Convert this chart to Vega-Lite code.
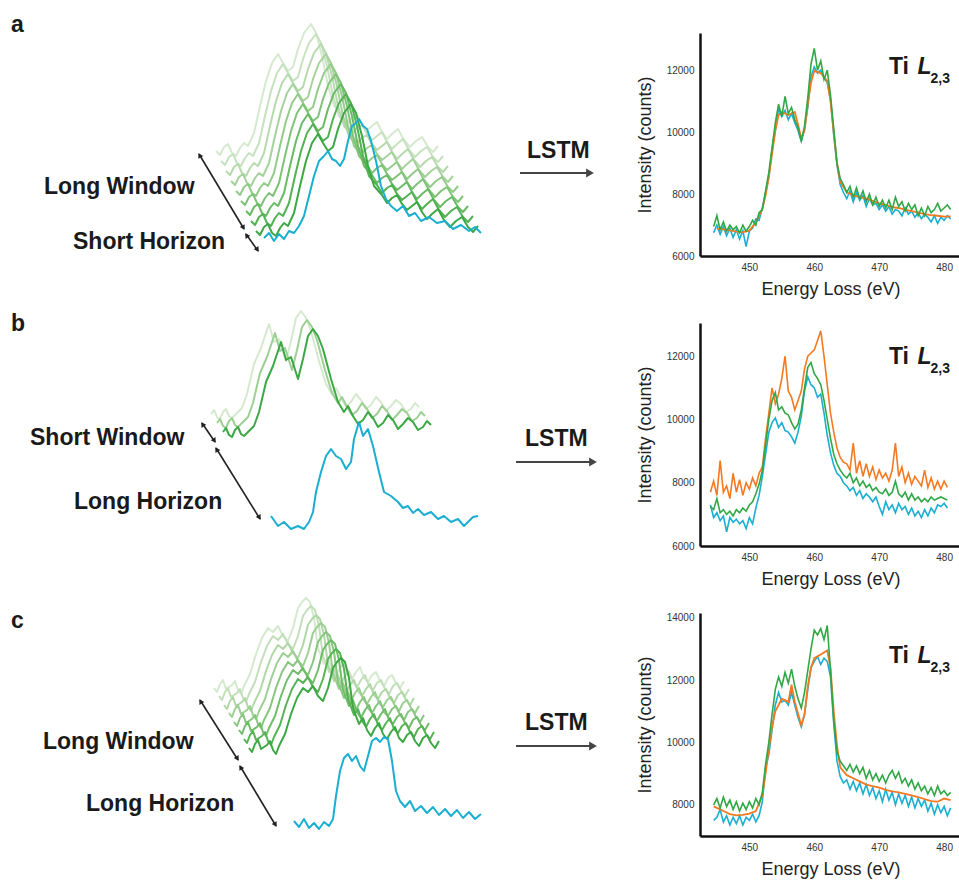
{
"$schema":"https://vega.github.io/schema/vega-lite/v6.json",
"padding":{"top":13,"left":0,"right":0,"bottom":0},
"background":"white",
"config":{"view":{"stroke":"transparent"},"font":"Liberation Sans","axis":{"domainColor":"#111","domainWidth":2.5,"ticks":false,"grid":false,"labelFont":"Liberation Sans","labelFontSize":10,"labelColor":"#333","titleFont":"Liberation Sans","titleFontSize":18,"titleFontWeight":"normal","titleColor":"#222","labelPadding":6}},
"datasets":{
"sa":[{"k":0,"x":215,"y":105},{"k":0,"x":223,"y":109},{"k":0,"x":231,"y":103},{"k":0,"x":239,"y":108},{"k":0,"x":247,"y":110},{"k":0,"x":253,"y":123},{"k":0,"x":259,"y":150},{"k":0,"x":265,"y":175},{"k":0,"x":271,"y":193},{"k":0,"x":277,"y":202},{"k":0,"x":282,"y":193},{"k":0,"x":287,"y":185},{"k":0,"x":292,"y":189},{"k":0,"x":297,"y":207},{"k":0,"x":303,"y":223},{"k":0,"x":310,"y":232},{"k":0,"x":315,"y":223},{"k":0,"x":321,"y":200},{"k":0,"x":327,"y":170},{"k":0,"x":333,"y":150},{"k":0,"x":341,"y":141},{"k":0,"x":351,"y":138},{"k":0,"x":361,"y":132},{"k":0,"x":371,"y":130},{"k":0,"x":381,"y":124},{"k":0,"x":391,"y":122},{"k":0,"x":403,"y":116},{"k":0,"x":415,"y":115},{"k":0,"x":427,"y":109},{"k":0,"x":437,"y":110},
{"k":1,"x":220,"y":95},{"k":1,"x":228,"y":99},{"k":1,"x":236,"y":93},{"k":1,"x":244,"y":98},{"k":1,"x":252,"y":100},{"k":1,"x":258,"y":113},{"k":1,"x":264,"y":140},{"k":1,"x":270,"y":165},{"k":1,"x":276,"y":183},{"k":1,"x":282,"y":192},{"k":1,"x":287,"y":183},{"k":1,"x":292,"y":175},{"k":1,"x":297,"y":179},{"k":1,"x":302,"y":197},{"k":1,"x":308,"y":213},{"k":1,"x":315,"y":222},{"k":1,"x":320,"y":213},{"k":1,"x":326,"y":190},{"k":1,"x":332,"y":160},{"k":1,"x":338,"y":140},{"k":1,"x":346,"y":131},{"k":1,"x":356,"y":128},{"k":1,"x":366,"y":122},{"k":1,"x":376,"y":120},{"k":1,"x":386,"y":114},{"k":1,"x":396,"y":112},{"k":1,"x":408,"y":106},{"k":1,"x":420,"y":105},{"k":1,"x":432,"y":99},{"k":1,"x":442,"y":100},
{"k":2,"x":225,"y":85},{"k":2,"x":233,"y":89},{"k":2,"x":241,"y":83},{"k":2,"x":249,"y":88},{"k":2,"x":257,"y":90},{"k":2,"x":263,"y":103},{"k":2,"x":269,"y":130},{"k":2,"x":275,"y":155},{"k":2,"x":281,"y":173},{"k":2,"x":287,"y":182},{"k":2,"x":292,"y":173},{"k":2,"x":297,"y":165},{"k":2,"x":302,"y":169},{"k":2,"x":307,"y":187},{"k":2,"x":313,"y":203},{"k":2,"x":320,"y":212},{"k":2,"x":325,"y":203},{"k":2,"x":331,"y":180},{"k":2,"x":337,"y":150},{"k":2,"x":343,"y":130},{"k":2,"x":351,"y":121},{"k":2,"x":361,"y":118},{"k":2,"x":371,"y":112},{"k":2,"x":381,"y":110},{"k":2,"x":391,"y":104},{"k":2,"x":401,"y":102},{"k":2,"x":413,"y":96},{"k":2,"x":425,"y":95},{"k":2,"x":437,"y":89},{"k":2,"x":447,"y":90},
{"k":3,"x":230,"y":75},{"k":3,"x":238,"y":79},{"k":3,"x":246,"y":73},{"k":3,"x":254,"y":78},{"k":3,"x":262,"y":80},{"k":3,"x":268,"y":93},{"k":3,"x":274,"y":120},{"k":3,"x":280,"y":145},{"k":3,"x":286,"y":163},{"k":3,"x":292,"y":172},{"k":3,"x":297,"y":163},{"k":3,"x":302,"y":155},{"k":3,"x":307,"y":159},{"k":3,"x":312,"y":177},{"k":3,"x":318,"y":193},{"k":3,"x":325,"y":202},{"k":3,"x":330,"y":193},{"k":3,"x":336,"y":170},{"k":3,"x":342,"y":140},{"k":3,"x":348,"y":120},{"k":3,"x":356,"y":111},{"k":3,"x":366,"y":108},{"k":3,"x":376,"y":102},{"k":3,"x":386,"y":100},{"k":3,"x":396,"y":94},{"k":3,"x":406,"y":92},{"k":3,"x":418,"y":86},{"k":3,"x":430,"y":85},{"k":3,"x":442,"y":79},{"k":3,"x":452,"y":80},
{"k":4,"x":235,"y":65},{"k":4,"x":243,"y":69},{"k":4,"x":251,"y":63},{"k":4,"x":259,"y":68},{"k":4,"x":267,"y":70},{"k":4,"x":273,"y":83},{"k":4,"x":279,"y":110},{"k":4,"x":285,"y":135},{"k":4,"x":291,"y":153},{"k":4,"x":297,"y":162},{"k":4,"x":302,"y":153},{"k":4,"x":307,"y":145},{"k":4,"x":312,"y":149},{"k":4,"x":317,"y":167},{"k":4,"x":323,"y":183},{"k":4,"x":330,"y":192},{"k":4,"x":335,"y":183},{"k":4,"x":341,"y":160},{"k":4,"x":347,"y":130},{"k":4,"x":353,"y":110},{"k":4,"x":361,"y":101},{"k":4,"x":371,"y":98},{"k":4,"x":381,"y":92},{"k":4,"x":391,"y":90},{"k":4,"x":401,"y":84},{"k":4,"x":411,"y":82},{"k":4,"x":423,"y":76},{"k":4,"x":435,"y":75},{"k":4,"x":447,"y":69},{"k":4,"x":457,"y":70},
{"k":5,"x":240,"y":55},{"k":5,"x":248,"y":59},{"k":5,"x":256,"y":53},{"k":5,"x":264,"y":58},{"k":5,"x":272,"y":60},{"k":5,"x":278,"y":73},{"k":5,"x":284,"y":100},{"k":5,"x":290,"y":125},{"k":5,"x":296,"y":143},{"k":5,"x":302,"y":152},{"k":5,"x":307,"y":143},{"k":5,"x":312,"y":135},{"k":5,"x":317,"y":139},{"k":5,"x":322,"y":157},{"k":5,"x":328,"y":173},{"k":5,"x":335,"y":182},{"k":5,"x":340,"y":173},{"k":5,"x":346,"y":150},{"k":5,"x":352,"y":120},{"k":5,"x":358,"y":100},{"k":5,"x":366,"y":91},{"k":5,"x":376,"y":88},{"k":5,"x":386,"y":82},{"k":5,"x":396,"y":80},{"k":5,"x":406,"y":74},{"k":5,"x":416,"y":72},{"k":5,"x":428,"y":66},{"k":5,"x":440,"y":65},{"k":5,"x":452,"y":59},{"k":5,"x":462,"y":60},
{"k":6,"x":245,"y":45},{"k":6,"x":253,"y":49},{"k":6,"x":261,"y":43},{"k":6,"x":269,"y":48},{"k":6,"x":277,"y":50},{"k":6,"x":283,"y":63},{"k":6,"x":289,"y":90},{"k":6,"x":295,"y":115},{"k":6,"x":301,"y":133},{"k":6,"x":307,"y":142},{"k":6,"x":312,"y":133},{"k":6,"x":317,"y":125},{"k":6,"x":322,"y":129},{"k":6,"x":327,"y":147},{"k":6,"x":333,"y":163},{"k":6,"x":340,"y":172},{"k":6,"x":345,"y":163},{"k":6,"x":351,"y":140},{"k":6,"x":357,"y":110},{"k":6,"x":363,"y":90},{"k":6,"x":371,"y":81},{"k":6,"x":381,"y":78},{"k":6,"x":391,"y":72},{"k":6,"x":401,"y":70},{"k":6,"x":411,"y":64},{"k":6,"x":421,"y":62},{"k":6,"x":433,"y":56},{"k":6,"x":445,"y":55},{"k":6,"x":457,"y":49},{"k":6,"x":467,"y":50},
{"k":7,"x":250,"y":35},{"k":7,"x":258,"y":39},{"k":7,"x":266,"y":33},{"k":7,"x":274,"y":38},{"k":7,"x":282,"y":40},{"k":7,"x":288,"y":53},{"k":7,"x":294,"y":80},{"k":7,"x":300,"y":105},{"k":7,"x":306,"y":123},{"k":7,"x":312,"y":132},{"k":7,"x":317,"y":123},{"k":7,"x":322,"y":115},{"k":7,"x":327,"y":119},{"k":7,"x":332,"y":137},{"k":7,"x":338,"y":153},{"k":7,"x":345,"y":162},{"k":7,"x":350,"y":153},{"k":7,"x":356,"y":130},{"k":7,"x":362,"y":100},{"k":7,"x":368,"y":80},{"k":7,"x":376,"y":71},{"k":7,"x":386,"y":68},{"k":7,"x":396,"y":62},{"k":7,"x":406,"y":60},{"k":7,"x":416,"y":54},{"k":7,"x":426,"y":52},{"k":7,"x":438,"y":46},{"k":7,"x":450,"y":45},{"k":7,"x":462,"y":39},{"k":7,"x":472,"y":40},
{"k":8,"x":255,"y":25},{"k":8,"x":263,"y":29},{"k":8,"x":271,"y":23},{"k":8,"x":279,"y":28},{"k":8,"x":287,"y":30},{"k":8,"x":293,"y":43},{"k":8,"x":299,"y":70},{"k":8,"x":305,"y":95},{"k":8,"x":311,"y":113},{"k":8,"x":317,"y":122},{"k":8,"x":322,"y":113},{"k":8,"x":327,"y":105},{"k":8,"x":332,"y":109},{"k":8,"x":337,"y":127},{"k":8,"x":343,"y":143},{"k":8,"x":350,"y":152},{"k":8,"x":355,"y":143},{"k":8,"x":361,"y":120},{"k":8,"x":367,"y":90},{"k":8,"x":373,"y":70},{"k":8,"x":381,"y":61},{"k":8,"x":391,"y":58},{"k":8,"x":401,"y":52},{"k":8,"x":411,"y":50},{"k":8,"x":421,"y":44},{"k":8,"x":431,"y":42},{"k":8,"x":443,"y":36},{"k":8,"x":455,"y":35},{"k":8,"x":467,"y":29},{"k":8,"x":477,"y":30},
{"k":9,"x":263,"y":18},{"k":9,"x":268,"y":23},{"k":9,"x":273,"y":15},{"k":9,"x":278,"y":22},{"k":9,"x":283,"y":17},{"k":9,"x":288,"y":25},{"k":9,"x":293,"y":23},{"k":9,"x":298,"y":30},{"k":9,"x":303,"y":40},{"k":9,"x":308,"y":60},{"k":9,"x":313,"y":80},{"k":9,"x":318,"y":95},{"k":9,"x":323,"y":100},{"k":9,"x":327,"y":105},{"k":9,"x":331,"y":97},{"k":9,"x":335,"y":95},{"k":9,"x":339,"y":90},{"k":9,"x":343,"y":97},{"k":9,"x":347,"y":115},{"k":9,"x":351,"y":130},{"k":9,"x":355,"y":133},{"k":9,"x":358,"y":137},{"k":9,"x":362,"y":130},{"k":9,"x":366,"y":127},{"k":9,"x":370,"y":115},{"k":9,"x":375,"y":95},{"k":9,"x":380,"y":70},{"k":9,"x":385,"y":57},{"k":9,"x":390,"y":50},{"k":9,"x":396,"y":45},{"k":9,"x":402,"y":50},{"k":9,"x":408,"y":40},{"k":9,"x":414,"y":43},{"k":9,"x":420,"y":35},{"k":9,"x":428,"y":39},{"k":9,"x":436,"y":33},{"k":9,"x":444,"y":35},{"k":9,"x":452,"y":27},{"k":9,"x":460,"y":31},{"k":9,"x":468,"y":25},{"k":9,"x":474,"y":29},{"k":9,"x":480,"y":23},
{"k":0,"x":219,"y":101},{"k":0,"x":227,"y":112},{"k":0,"x":235,"y":100},{"k":0,"x":243,"y":113},{"k":0,"x":346,"y":133},{"k":0,"x":356,"y":141},{"k":0,"x":366,"y":126},{"k":0,"x":376,"y":134},{"k":0,"x":386,"y":117},{"k":0,"x":397,"y":127},{"k":0,"x":409,"y":109},{"k":0,"x":421,"y":119},{"k":0,"x":432,"y":104},
{"k":1,"x":224,"y":91},{"k":1,"x":232,"y":102},{"k":1,"x":240,"y":90},{"k":1,"x":248,"y":103},{"k":1,"x":351,"y":123},{"k":1,"x":361,"y":131},{"k":1,"x":371,"y":116},{"k":1,"x":381,"y":124},{"k":1,"x":391,"y":107},{"k":1,"x":402,"y":117},{"k":1,"x":414,"y":99},{"k":1,"x":426,"y":109},{"k":1,"x":437,"y":94},
{"k":2,"x":229,"y":81},{"k":2,"x":237,"y":92},{"k":2,"x":245,"y":80},{"k":2,"x":253,"y":93},{"k":2,"x":356,"y":113},{"k":2,"x":366,"y":121},{"k":2,"x":376,"y":106},{"k":2,"x":386,"y":114},{"k":2,"x":396,"y":97},{"k":2,"x":407,"y":107},{"k":2,"x":419,"y":89},{"k":2,"x":431,"y":99},{"k":2,"x":442,"y":84},
{"k":3,"x":234,"y":71},{"k":3,"x":242,"y":82},{"k":3,"x":250,"y":70},{"k":3,"x":258,"y":83},{"k":3,"x":361,"y":103},{"k":3,"x":371,"y":111},{"k":3,"x":381,"y":96},{"k":3,"x":391,"y":104},{"k":3,"x":401,"y":87},{"k":3,"x":412,"y":97},{"k":3,"x":424,"y":79},{"k":3,"x":436,"y":89},{"k":3,"x":447,"y":74},
{"k":4,"x":239,"y":61},{"k":4,"x":247,"y":72},{"k":4,"x":255,"y":60},{"k":4,"x":263,"y":73},{"k":4,"x":366,"y":93},{"k":4,"x":376,"y":101},{"k":4,"x":386,"y":86},{"k":4,"x":396,"y":94},{"k":4,"x":406,"y":77},{"k":4,"x":417,"y":87},{"k":4,"x":429,"y":69},{"k":4,"x":441,"y":79},{"k":4,"x":452,"y":64},
{"k":5,"x":244,"y":51},{"k":5,"x":252,"y":62},{"k":5,"x":260,"y":50},{"k":5,"x":268,"y":63},{"k":5,"x":371,"y":83},{"k":5,"x":381,"y":91},{"k":5,"x":391,"y":76},{"k":5,"x":401,"y":84},{"k":5,"x":411,"y":67},{"k":5,"x":422,"y":77},{"k":5,"x":434,"y":59},{"k":5,"x":446,"y":69},{"k":5,"x":457,"y":54},
{"k":6,"x":249,"y":41},{"k":6,"x":257,"y":52},{"k":6,"x":265,"y":40},{"k":6,"x":273,"y":53},{"k":6,"x":376,"y":73},{"k":6,"x":386,"y":81},{"k":6,"x":396,"y":66},{"k":6,"x":406,"y":74},{"k":6,"x":416,"y":57},{"k":6,"x":427,"y":67},{"k":6,"x":439,"y":49},{"k":6,"x":451,"y":59},{"k":6,"x":462,"y":44},
{"k":7,"x":254,"y":31},{"k":7,"x":262,"y":42},{"k":7,"x":270,"y":30},{"k":7,"x":278,"y":43},{"k":7,"x":381,"y":63},{"k":7,"x":391,"y":71},{"k":7,"x":401,"y":56},{"k":7,"x":411,"y":64},{"k":7,"x":421,"y":47},{"k":7,"x":432,"y":57},{"k":7,"x":444,"y":39},{"k":7,"x":456,"y":49},{"k":7,"x":467,"y":34},
{"k":8,"x":259,"y":21},{"k":8,"x":267,"y":32},{"k":8,"x":275,"y":20},{"k":8,"x":283,"y":33},{"k":8,"x":386,"y":53},{"k":8,"x":396,"y":61},{"k":8,"x":406,"y":46},{"k":8,"x":416,"y":54},{"k":8,"x":426,"y":37},{"k":8,"x":437,"y":47},{"k":8,"x":449,"y":29},{"k":8,"x":461,"y":39},{"k":8,"x":472,"y":24}],
"sb":[{"k":0,"x":210,"y":132},{"k":0,"x":216,"y":129},{"k":0,"x":222,"y":134},{"k":0,"x":228,"y":130},{"k":0,"x":235,"y":132},{"k":0,"x":241,"y":138},{"k":0,"x":246,"y":152},{"k":0,"x":253,"y":182},{"k":0,"x":260,"y":198},{"k":0,"x":268,"y":222},{"k":0,"x":273,"y":204},{"k":0,"x":278,"y":207},{"k":0,"x":285,"y":185},{"k":0,"x":290,"y":205},{"k":0,"x":295,"y":228},{"k":0,"x":300,"y":235},{"k":0,"x":305,"y":228},{"k":0,"x":310,"y":215},{"k":0,"x":318,"y":185},{"k":0,"x":325,"y":162},{"k":0,"x":331,"y":152},{"k":0,"x":340,"y":148},{"k":0,"x":350,"y":144},{"k":0,"x":360,"y":146},{"k":0,"x":370,"y":141},{"k":0,"x":380,"y":144},{"k":0,"x":390,"y":140},{"k":0,"x":400,"y":142},{"k":0,"x":410,"y":137},{"k":0,"x":418,"y":139},
{"k":1,"x":216,"y":123},{"k":1,"x":222,"y":120},{"k":1,"x":228,"y":125},{"k":1,"x":234,"y":121},{"k":1,"x":241,"y":123},{"k":1,"x":247,"y":129},{"k":1,"x":252,"y":143},{"k":1,"x":259,"y":173},{"k":1,"x":266,"y":189},{"k":1,"x":274,"y":213},{"k":1,"x":279,"y":195},{"k":1,"x":284,"y":198},{"k":1,"x":291,"y":176},{"k":1,"x":296,"y":196},{"k":1,"x":301,"y":219},{"k":1,"x":306,"y":226},{"k":1,"x":311,"y":219},{"k":1,"x":316,"y":206},{"k":1,"x":324,"y":176},{"k":1,"x":331,"y":153},{"k":1,"x":337,"y":143},{"k":1,"x":346,"y":139},{"k":1,"x":356,"y":135},{"k":1,"x":366,"y":137},{"k":1,"x":376,"y":132},{"k":1,"x":386,"y":135},{"k":1,"x":396,"y":131},{"k":1,"x":406,"y":133},{"k":1,"x":416,"y":128},{"k":1,"x":424,"y":130},
{"k":2,"x":222,"y":114},{"k":2,"x":228,"y":111},{"k":2,"x":234,"y":116},{"k":2,"x":240,"y":112},{"k":2,"x":247,"y":114},{"k":2,"x":253,"y":120},{"k":2,"x":258,"y":134},{"k":2,"x":265,"y":164},{"k":2,"x":272,"y":180},{"k":2,"x":280,"y":204},{"k":2,"x":285,"y":186},{"k":2,"x":290,"y":189},{"k":2,"x":297,"y":167},{"k":2,"x":302,"y":187},{"k":2,"x":307,"y":210},{"k":2,"x":312,"y":217},{"k":2,"x":317,"y":210},{"k":2,"x":322,"y":197},{"k":2,"x":330,"y":167},{"k":2,"x":337,"y":144},{"k":2,"x":343,"y":134},{"k":2,"x":352,"y":130},{"k":2,"x":362,"y":126},{"k":2,"x":372,"y":128},{"k":2,"x":382,"y":123},{"k":2,"x":392,"y":126},{"k":2,"x":402,"y":122},{"k":2,"x":412,"y":124},{"k":2,"x":422,"y":119},{"k":2,"x":430,"y":121},
{"k":3,"x":270,"y":30},{"k":3,"x":277,"y":20},{"k":3,"x":283,"y":24},{"k":3,"x":290,"y":17},{"k":3,"x":297,"y":20},{"k":3,"x":303,"y":17},{"k":3,"x":308,"y":24},{"k":3,"x":312,"y":34},{"k":3,"x":315,"y":54},{"k":3,"x":320,"y":74},{"k":3,"x":325,"y":90},{"k":3,"x":330,"y":97},{"k":3,"x":335,"y":90},{"k":3,"x":340,"y":87},{"k":3,"x":345,"y":77},{"k":3,"x":350,"y":84},{"k":3,"x":353,"y":107},{"k":3,"x":358,"y":124},{"k":3,"x":362,"y":110},{"k":3,"x":367,"y":117},{"k":3,"x":372,"y":100},{"k":3,"x":378,"y":74},{"k":3,"x":383,"y":54},{"k":3,"x":390,"y":50},{"k":3,"x":397,"y":44},{"k":3,"x":402,"y":38},{"k":3,"x":407,"y":40},{"k":3,"x":412,"y":33},{"k":3,"x":417,"y":37},{"k":3,"x":423,"y":31},{"k":3,"x":430,"y":34},{"k":3,"x":437,"y":27},{"k":3,"x":443,"y":30},{"k":3,"x":450,"y":24},{"k":3,"x":457,"y":27},{"k":3,"x":463,"y":20},{"k":3,"x":467,"y":24},{"k":3,"x":472,"y":29},{"k":3,"x":477,"y":30},
{"k":0,"x":213,"y":136},{"k":0,"x":219,"y":127},{"k":0,"x":225,"y":137},{"k":0,"x":231,"y":128},{"k":0,"x":335,"y":158},{"k":0,"x":345,"y":140},{"k":0,"x":355,"y":152},{"k":0,"x":365,"y":137},{"k":0,"x":375,"y":149},{"k":0,"x":385,"y":135},{"k":0,"x":395,"y":146},{"k":0,"x":405,"y":134},{"k":0,"x":414,"y":143},
{"k":1,"x":219,"y":127},{"k":1,"x":225,"y":118},{"k":1,"x":231,"y":128},{"k":1,"x":237,"y":119},{"k":1,"x":341,"y":149},{"k":1,"x":351,"y":131},{"k":1,"x":361,"y":143},{"k":1,"x":371,"y":128},{"k":1,"x":381,"y":140},{"k":1,"x":391,"y":126},{"k":1,"x":401,"y":137},{"k":1,"x":411,"y":125},{"k":1,"x":420,"y":134},
{"k":2,"x":225,"y":118},{"k":2,"x":231,"y":109},{"k":2,"x":237,"y":119},{"k":2,"x":243,"y":110},{"k":2,"x":347,"y":140},{"k":2,"x":357,"y":122},{"k":2,"x":367,"y":134},{"k":2,"x":377,"y":119},{"k":2,"x":387,"y":131},{"k":2,"x":397,"y":117},{"k":2,"x":407,"y":128},{"k":2,"x":417,"y":116},{"k":2,"x":426,"y":125}],
"sc":[{"k":0,"x":213,"y":148},{"k":0,"x":219,"y":152},{"k":0,"x":225,"y":147},{"k":0,"x":231,"y":151},{"k":0,"x":237,"y":146},{"k":0,"x":243,"y":150},{"k":0,"x":249,"y":162},{"k":0,"x":255,"y":182},{"k":0,"x":261,"y":198},{"k":0,"x":267,"y":208},{"k":0,"x":272,"y":204},{"k":0,"x":277,"y":210},{"k":0,"x":282,"y":200},{"k":0,"x":287,"y":195},{"k":0,"x":292,"y":208},{"k":0,"x":297,"y":228},{"k":0,"x":301,"y":234},{"k":0,"x":305,"y":238},{"k":0,"x":309,"y":234},{"k":0,"x":313,"y":218},{"k":0,"x":317,"y":188},{"k":0,"x":323,"y":172},{"k":0,"x":331,"y":166},{"k":0,"x":339,"y":168},{"k":0,"x":347,"y":162},{"k":0,"x":355,"y":164},{"k":0,"x":363,"y":158},{"k":0,"x":371,"y":161},{"k":0,"x":379,"y":155},{"k":0,"x":387,"y":158},{"k":0,"x":395,"y":153},{"k":0,"x":403,"y":155},
{"k":1,"x":218,"y":140},{"k":1,"x":224,"y":144},{"k":1,"x":230,"y":139},{"k":1,"x":236,"y":143},{"k":1,"x":242,"y":138},{"k":1,"x":248,"y":142},{"k":1,"x":254,"y":154},{"k":1,"x":260,"y":174},{"k":1,"x":266,"y":190},{"k":1,"x":272,"y":200},{"k":1,"x":277,"y":196},{"k":1,"x":282,"y":202},{"k":1,"x":287,"y":192},{"k":1,"x":292,"y":187},{"k":1,"x":297,"y":200},{"k":1,"x":302,"y":220},{"k":1,"x":306,"y":226},{"k":1,"x":310,"y":230},{"k":1,"x":314,"y":226},{"k":1,"x":318,"y":210},{"k":1,"x":322,"y":180},{"k":1,"x":328,"y":164},{"k":1,"x":336,"y":158},{"k":1,"x":344,"y":160},{"k":1,"x":352,"y":154},{"k":1,"x":360,"y":156},{"k":1,"x":368,"y":150},{"k":1,"x":376,"y":153},{"k":1,"x":384,"y":147},{"k":1,"x":392,"y":150},{"k":1,"x":400,"y":145},{"k":1,"x":408,"y":147},
{"k":2,"x":223,"y":131},{"k":2,"x":229,"y":135},{"k":2,"x":235,"y":130},{"k":2,"x":241,"y":134},{"k":2,"x":247,"y":129},{"k":2,"x":253,"y":133},{"k":2,"x":259,"y":145},{"k":2,"x":265,"y":165},{"k":2,"x":271,"y":181},{"k":2,"x":277,"y":191},{"k":2,"x":282,"y":187},{"k":2,"x":287,"y":193},{"k":2,"x":292,"y":183},{"k":2,"x":297,"y":178},{"k":2,"x":302,"y":191},{"k":2,"x":307,"y":211},{"k":2,"x":311,"y":217},{"k":2,"x":315,"y":221},{"k":2,"x":319,"y":217},{"k":2,"x":323,"y":201},{"k":2,"x":327,"y":171},{"k":2,"x":333,"y":155},{"k":2,"x":341,"y":149},{"k":2,"x":349,"y":151},{"k":2,"x":357,"y":145},{"k":2,"x":365,"y":147},{"k":2,"x":373,"y":141},{"k":2,"x":381,"y":144},{"k":2,"x":389,"y":138},{"k":2,"x":397,"y":141},{"k":2,"x":405,"y":136},{"k":2,"x":413,"y":138},
{"k":3,"x":228,"y":123},{"k":3,"x":234,"y":127},{"k":3,"x":240,"y":122},{"k":3,"x":246,"y":126},{"k":3,"x":252,"y":121},{"k":3,"x":258,"y":125},{"k":3,"x":264,"y":137},{"k":3,"x":270,"y":157},{"k":3,"x":276,"y":173},{"k":3,"x":282,"y":183},{"k":3,"x":287,"y":179},{"k":3,"x":292,"y":185},{"k":3,"x":297,"y":175},{"k":3,"x":302,"y":170},{"k":3,"x":307,"y":183},{"k":3,"x":312,"y":203},{"k":3,"x":316,"y":209},{"k":3,"x":320,"y":213},{"k":3,"x":324,"y":209},{"k":3,"x":328,"y":193},{"k":3,"x":332,"y":163},{"k":3,"x":338,"y":147},{"k":3,"x":346,"y":141},{"k":3,"x":354,"y":143},{"k":3,"x":362,"y":137},{"k":3,"x":370,"y":139},{"k":3,"x":378,"y":133},{"k":3,"x":386,"y":136},{"k":3,"x":394,"y":130},{"k":3,"x":402,"y":133},{"k":3,"x":410,"y":128},{"k":3,"x":418,"y":130},
{"k":4,"x":233,"y":114},{"k":4,"x":239,"y":118},{"k":4,"x":245,"y":113},{"k":4,"x":251,"y":117},{"k":4,"x":257,"y":112},{"k":4,"x":263,"y":116},{"k":4,"x":269,"y":128},{"k":4,"x":275,"y":148},{"k":4,"x":281,"y":164},{"k":4,"x":287,"y":174},{"k":4,"x":292,"y":170},{"k":4,"x":297,"y":176},{"k":4,"x":302,"y":166},{"k":4,"x":307,"y":161},{"k":4,"x":312,"y":174},{"k":4,"x":317,"y":194},{"k":4,"x":321,"y":200},{"k":4,"x":325,"y":204},{"k":4,"x":329,"y":200},{"k":4,"x":333,"y":184},{"k":4,"x":337,"y":154},{"k":4,"x":343,"y":138},{"k":4,"x":351,"y":132},{"k":4,"x":359,"y":134},{"k":4,"x":367,"y":128},{"k":4,"x":375,"y":130},{"k":4,"x":383,"y":124},{"k":4,"x":391,"y":127},{"k":4,"x":399,"y":121},{"k":4,"x":407,"y":124},{"k":4,"x":415,"y":119},{"k":4,"x":423,"y":121},
{"k":5,"x":238,"y":106},{"k":5,"x":244,"y":110},{"k":5,"x":250,"y":105},{"k":5,"x":256,"y":109},{"k":5,"x":262,"y":104},{"k":5,"x":268,"y":108},{"k":5,"x":274,"y":120},{"k":5,"x":280,"y":140},{"k":5,"x":286,"y":156},{"k":5,"x":292,"y":166},{"k":5,"x":297,"y":162},{"k":5,"x":302,"y":168},{"k":5,"x":307,"y":158},{"k":5,"x":312,"y":153},{"k":5,"x":317,"y":166},{"k":5,"x":322,"y":186},{"k":5,"x":326,"y":192},{"k":5,"x":330,"y":196},{"k":5,"x":334,"y":192},{"k":5,"x":338,"y":176},{"k":5,"x":342,"y":146},{"k":5,"x":348,"y":130},{"k":5,"x":356,"y":124},{"k":5,"x":364,"y":126},{"k":5,"x":372,"y":120},{"k":5,"x":380,"y":122},{"k":5,"x":388,"y":116},{"k":5,"x":396,"y":119},{"k":5,"x":404,"y":113},{"k":5,"x":412,"y":116},{"k":5,"x":420,"y":111},{"k":5,"x":428,"y":113},
{"k":6,"x":243,"y":97},{"k":6,"x":249,"y":101},{"k":6,"x":255,"y":96},{"k":6,"x":261,"y":100},{"k":6,"x":267,"y":95},{"k":6,"x":273,"y":99},{"k":6,"x":279,"y":111},{"k":6,"x":285,"y":131},{"k":6,"x":291,"y":147},{"k":6,"x":297,"y":157},{"k":6,"x":302,"y":153},{"k":6,"x":307,"y":159},{"k":6,"x":312,"y":149},{"k":6,"x":317,"y":144},{"k":6,"x":322,"y":157},{"k":6,"x":327,"y":177},{"k":6,"x":331,"y":183},{"k":6,"x":335,"y":187},{"k":6,"x":339,"y":183},{"k":6,"x":343,"y":167},{"k":6,"x":347,"y":137},{"k":6,"x":353,"y":121},{"k":6,"x":361,"y":115},{"k":6,"x":369,"y":117},{"k":6,"x":377,"y":111},{"k":6,"x":385,"y":113},{"k":6,"x":393,"y":107},{"k":6,"x":401,"y":110},{"k":6,"x":409,"y":104},{"k":6,"x":417,"y":107},{"k":6,"x":425,"y":102},{"k":6,"x":433,"y":104},
{"k":7,"x":248,"y":88},{"k":7,"x":254,"y":92},{"k":7,"x":260,"y":87},{"k":7,"x":266,"y":91},{"k":7,"x":272,"y":86},{"k":7,"x":278,"y":90},{"k":7,"x":284,"y":102},{"k":7,"x":290,"y":122},{"k":7,"x":296,"y":138},{"k":7,"x":302,"y":148},{"k":7,"x":307,"y":144},{"k":7,"x":312,"y":150},{"k":7,"x":317,"y":140},{"k":7,"x":322,"y":135},{"k":7,"x":327,"y":148},{"k":7,"x":332,"y":168},{"k":7,"x":336,"y":174},{"k":7,"x":340,"y":178},{"k":7,"x":344,"y":174},{"k":7,"x":348,"y":158},{"k":7,"x":352,"y":128},{"k":7,"x":358,"y":112},{"k":7,"x":366,"y":106},{"k":7,"x":374,"y":108},{"k":7,"x":382,"y":102},{"k":7,"x":390,"y":104},{"k":7,"x":398,"y":98},{"k":7,"x":406,"y":101},{"k":7,"x":414,"y":95},{"k":7,"x":422,"y":98},{"k":7,"x":430,"y":93},{"k":7,"x":438,"y":95},
{"k":8,"x":293,"y":15},{"k":8,"x":298,"y":9},{"k":8,"x":303,"y":17},{"k":8,"x":308,"y":8},{"k":8,"x":313,"y":13},{"k":8,"x":318,"y":7},{"k":8,"x":323,"y":14},{"k":8,"x":328,"y":10},{"k":8,"x":332,"y":17},{"k":8,"x":335,"y":40},{"k":8,"x":339,"y":65},{"k":8,"x":343,"y":78},{"k":8,"x":347,"y":82},{"k":8,"x":351,"y":75},{"k":8,"x":355,"y":80},{"k":8,"x":359,"y":70},{"k":8,"x":363,"y":65},{"k":8,"x":367,"y":80},{"k":8,"x":371,"y":95},{"k":8,"x":375,"y":98},{"k":8,"x":379,"y":94},{"k":8,"x":383,"y":99},{"k":8,"x":387,"y":97},{"k":8,"x":391,"y":75},{"k":8,"x":395,"y":45},{"k":8,"x":399,"y":35},{"k":8,"x":404,"y":29},{"k":8,"x":409,"y":35},{"k":8,"x":414,"y":25},{"k":8,"x":420,"y":30},{"k":8,"x":426,"y":23},{"k":8,"x":432,"y":29},{"k":8,"x":438,"y":21},{"k":8,"x":444,"y":27},{"k":8,"x":450,"y":20},{"k":8,"x":456,"y":26},{"k":8,"x":462,"y":18},{"k":8,"x":468,"y":24},{"k":8,"x":474,"y":17},{"k":8,"x":480,"y":22},
{"k":0,"x":216,"y":144},{"k":0,"x":222,"y":156},{"k":0,"x":234,"y":155},{"k":0,"x":240,"y":142},{"k":0,"x":327,"y":178},{"k":0,"x":335,"y":160},{"k":0,"x":343,"y":173},{"k":0,"x":351,"y":157},{"k":0,"x":359,"y":169},{"k":0,"x":367,"y":154},{"k":0,"x":375,"y":164},{"k":0,"x":383,"y":150},{"k":0,"x":391,"y":161},{"k":0,"x":399,"y":148},
{"k":1,"x":221,"y":136},{"k":1,"x":227,"y":148},{"k":1,"x":239,"y":147},{"k":1,"x":245,"y":134},{"k":1,"x":332,"y":170},{"k":1,"x":340,"y":152},{"k":1,"x":348,"y":165},{"k":1,"x":356,"y":149},{"k":1,"x":364,"y":161},{"k":1,"x":372,"y":146},{"k":1,"x":380,"y":156},{"k":1,"x":388,"y":142},{"k":1,"x":396,"y":153},{"k":1,"x":404,"y":140},
{"k":2,"x":226,"y":127},{"k":2,"x":232,"y":139},{"k":2,"x":244,"y":138},{"k":2,"x":250,"y":125},{"k":2,"x":337,"y":161},{"k":2,"x":345,"y":143},{"k":2,"x":353,"y":156},{"k":2,"x":361,"y":140},{"k":2,"x":369,"y":152},{"k":2,"x":377,"y":137},{"k":2,"x":385,"y":147},{"k":2,"x":393,"y":133},{"k":2,"x":401,"y":144},{"k":2,"x":409,"y":131},
{"k":3,"x":231,"y":119},{"k":3,"x":237,"y":131},{"k":3,"x":249,"y":130},{"k":3,"x":255,"y":117},{"k":3,"x":342,"y":153},{"k":3,"x":350,"y":135},{"k":3,"x":358,"y":148},{"k":3,"x":366,"y":132},{"k":3,"x":374,"y":144},{"k":3,"x":382,"y":129},{"k":3,"x":390,"y":139},{"k":3,"x":398,"y":125},{"k":3,"x":406,"y":136},{"k":3,"x":414,"y":123},
{"k":4,"x":236,"y":110},{"k":4,"x":242,"y":122},{"k":4,"x":254,"y":121},{"k":4,"x":260,"y":108},{"k":4,"x":347,"y":144},{"k":4,"x":355,"y":126},{"k":4,"x":363,"y":139},{"k":4,"x":371,"y":123},{"k":4,"x":379,"y":135},{"k":4,"x":387,"y":120},{"k":4,"x":395,"y":130},{"k":4,"x":403,"y":116},{"k":4,"x":411,"y":127},{"k":4,"x":419,"y":114},
{"k":5,"x":241,"y":102},{"k":5,"x":247,"y":114},{"k":5,"x":259,"y":113},{"k":5,"x":265,"y":100},{"k":5,"x":352,"y":136},{"k":5,"x":360,"y":118},{"k":5,"x":368,"y":131},{"k":5,"x":376,"y":115},{"k":5,"x":384,"y":127},{"k":5,"x":392,"y":112},{"k":5,"x":400,"y":122},{"k":5,"x":408,"y":108},{"k":5,"x":416,"y":119},{"k":5,"x":424,"y":106},
{"k":6,"x":246,"y":93},{"k":6,"x":252,"y":105},{"k":6,"x":264,"y":104},{"k":6,"x":270,"y":91},{"k":6,"x":357,"y":127},{"k":6,"x":365,"y":109},{"k":6,"x":373,"y":122},{"k":6,"x":381,"y":106},{"k":6,"x":389,"y":118},{"k":6,"x":397,"y":103},{"k":6,"x":405,"y":113},{"k":6,"x":413,"y":99},{"k":6,"x":421,"y":110},{"k":6,"x":429,"y":97},
{"k":7,"x":251,"y":84},{"k":7,"x":257,"y":96},{"k":7,"x":269,"y":95},{"k":7,"x":275,"y":82},{"k":7,"x":362,"y":118},{"k":7,"x":370,"y":100},{"k":7,"x":378,"y":113},{"k":7,"x":386,"y":97},{"k":7,"x":394,"y":109},{"k":7,"x":402,"y":94},{"k":7,"x":410,"y":104},{"k":7,"x":418,"y":90},{"k":7,"x":426,"y":101},{"k":7,"x":434,"y":88}],
"ra":[{"x":198,"y":102,"x2":243,"y2":27},{"x":245,"y":22,"x2":257,"y2":5}],
"ha":[{"x":199,"y":100,"a":329},{"x":242,"y":29,"a":149},{"x":246,"y":20,"a":325},{"x":256,"y":7,"a":145}],
"rb":[{"x":201,"y":123,"x2":214,"y2":104},{"x":215,"y":98,"x2":259,"y2":27}],
"hb":[{"x":202,"y":121,"a":326},{"x":213,"y":106,"a":146},{"x":216,"y":96,"a":328},{"x":258,"y":29,"a":148}],
"rc":[{"x":199,"y":136,"x2":237,"y2":76},{"x":239,"y":70,"x2":275,"y2":10}],
"hc":[{"x":200,"y":134,"a":328},{"x":236,"y":78,"a":148},{"x":240,"y":68,"a":329},{"x":274,"y":12,"a":149}],
"la":[{"x":519,"x2":589,"y":83}],
"lb":[{"x":515,"x2":592,"y":84}],
"lc":[{"x":515,"x2":592,"y":90}],
"ta":[{"t":"a","x":10,"y":224},{"t":"Long Window","x":43,"y":62},{"t":"Short Horizon","x":72,"y":7},{"t":"LSTM","x":526,"y":98}],
"tb":[{"t":"b","x":10,"y":215},{"t":"Short Window","x":29,"y":101},{"t":"Long Horizon","x":73,"y":37},{"t":"LSTM","x":524,"y":100}],
"tc":[{"t":"c","x":10,"y":208},{"t":"Long Window","x":42,"y":87},{"t":"Long Horizon","x":85,"y":25},{"t":"LSTM","x":524,"y":106}],
"ka":[{"t":"Ti","x":471.5,"y":11877},{"t":"L","x":475.9,"y":11877},{"t":"2,3","x":477.9,"y":11586}],
"kb":[{"t":"Ti","x":471.5,"y":11754},{"t":"L","x":475.9,"y":11754},{"t":"2,3","x":477.9,"y":11470}],
"kc":[{"t":"Ti","x":471.5,"y":12547},{"t":"L","x":475.9,"y":12547},{"t":"2,3","x":477.9,"y":12258}],
"ab":[{"x":444.5,"y":6750},{"x":445,"y":7000},{"x":445.5,"y":6700},{"x":446,"y":6950},{"x":446.5,"y":6650},{"x":447,"y":6900},{"x":447.5,"y":6600},{"x":448,"y":6850},{"x":448.5,"y":6550},{"x":449,"y":6820},{"x":449.5,"y":6300},{"x":450,"y":6800},{"x":450.5,"y":6900},{"x":451,"y":7200},{"x":451.5,"y":7150},{"x":452,"y":7550},{"x":452.5,"y":8050},{"x":453,"y":8550},{"x":453.5,"y":9450},{"x":454,"y":10050},{"x":454.5,"y":10750},{"x":455,"y":10500},{"x":455.5,"y":10700},{"x":456,"y":10400},{"x":456.5,"y":10600},{"x":457,"y":10300},{"x":457.5,"y":10050},{"x":458,"y":9700},{"x":458.5,"y":10100},{"x":459,"y":10800},{"x":459.5,"y":11800},{"x":460,"y":12100},{"x":460.5,"y":11900},{"x":461,"y":12000},{"x":461.5,"y":11750},{"x":462,"y":11600},{"x":462.5,"y":11050},{"x":463,"y":9900},{"x":463.5,"y":8950},{"x":464,"y":8300},{"x":464.5,"y":8050},{"x":465,"y":7850},{"x":465.5,"y":8100},{"x":466,"y":7750},{"x":466.5,"y":8050},{"x":467,"y":7800},{"x":467.5,"y":7950},{"x":468,"y":7600},{"x":468.5,"y":7850},{"x":469,"y":7650},{"x":469.5,"y":7700},{"x":470,"y":7500},{"x":470.5,"y":7650},{"x":471,"y":7450},{"x":471.5,"y":7600},{"x":472,"y":7350},{"x":472.5,"y":7500},{"x":473,"y":7450},{"x":473.5,"y":7300},{"x":474,"y":7550},{"x":474.5,"y":7350},{"x":475,"y":7450},{"x":475.5,"y":7250},{"x":476,"y":7400},{"x":476.5,"y":7200},{"x":477,"y":7350},{"x":477.5,"y":7250},{"x":478,"y":7100},{"x":478.5,"y":7300},{"x":479,"y":7050},{"x":479.5,"y":7250},{"x":480,"y":7150},{"x":480.5,"y":7300},{"x":481,"y":7200}],
"ao":[{"x":445,"y":6880},{"x":446,"y":6860},{"x":447,"y":6830},{"x":448,"y":6790},{"x":449,"y":6770},{"x":450,"y":6820},{"x":451,"y":7080},{"x":452,"y":7520},{"x":452.5,"y":7950},{"x":453,"y":8550},{"x":453.5,"y":9300},{"x":454,"y":10050},{"x":454.5,"y":10550},{"x":455,"y":10650},{"x":456,"y":10550},{"x":457,"y":10650},{"x":457.5,"y":10250},{"x":458,"y":9800},{"x":458.5,"y":10050},{"x":459,"y":10900},{"x":459.5,"y":11600},{"x":460,"y":11980},{"x":461,"y":11900},{"x":462,"y":11650},{"x":462.5,"y":11000},{"x":463,"y":10000},{"x":463.5,"y":9000},{"x":464,"y":8400},{"x":465,"y":8060},{"x":466,"y":7960},{"x":467,"y":7900},{"x":468,"y":7850},{"x":469,"y":7780},{"x":470,"y":7700},{"x":471,"y":7650},{"x":472,"y":7580},{"x":473,"y":7550},{"x":474,"y":7500},{"x":475,"y":7450},{"x":476,"y":7400},{"x":477,"y":7350},{"x":478,"y":7320},{"x":479,"y":7300},{"x":480,"y":7270},{"x":481,"y":7280}],
"ag":[{"x":444.5,"y":6950},{"x":445,"y":7300},{"x":445.5,"y":6850},{"x":446,"y":7100},{"x":446.5,"y":6800},{"x":447,"y":7000},{"x":447.5,"y":6850},{"x":448,"y":6950},{"x":448.5,"y":6750},{"x":449,"y":7000},{"x":449.5,"y":6800},{"x":450,"y":6950},{"x":450.5,"y":7150},{"x":451,"y":7000},{"x":451.5,"y":7400},{"x":452,"y":7500},{"x":452.5,"y":8100},{"x":453,"y":8700},{"x":453.5,"y":9500},{"x":454,"y":10300},{"x":454.5,"y":10900},{"x":455,"y":10500},{"x":455.5,"y":11150},{"x":456,"y":10600},{"x":456.5,"y":10800},{"x":457,"y":10400},{"x":457.5,"y":10150},{"x":458,"y":9700},{"x":458.5,"y":10200},{"x":459,"y":11100},{"x":459.5,"y":12200},{"x":460,"y":12700},{"x":460.5,"y":12000},{"x":461,"y":12300},{"x":461.5,"y":11700},{"x":462,"y":12000},{"x":462.5,"y":11200},{"x":463,"y":10100},{"x":463.5,"y":9000},{"x":464,"y":8500},{"x":464.5,"y":8300},{"x":465,"y":8050},{"x":465.5,"y":8250},{"x":466,"y":7900},{"x":466.5,"y":8200},{"x":467,"y":7850},{"x":467.5,"y":8100},{"x":468,"y":7750},{"x":468.5,"y":8000},{"x":469,"y":7650},{"x":469.5,"y":7900},{"x":470,"y":7600},{"x":470.5,"y":7800},{"x":471,"y":7550},{"x":471.5,"y":7800},{"x":472,"y":7500},{"x":472.5,"y":7900},{"x":473,"y":7600},{"x":473.5,"y":7750},{"x":474,"y":7450},{"x":474.5,"y":7700},{"x":475,"y":7500},{"x":475.5,"y":7650},{"x":476,"y":7300},{"x":476.5,"y":7550},{"x":477,"y":7300},{"x":477.5,"y":7600},{"x":478,"y":7400},{"x":478.5,"y":7500},{"x":479,"y":7700},{"x":479.5,"y":7450},{"x":480,"y":7550},{"x":480.5,"y":7650},{"x":481,"y":7500}],
"bb":[{"x":444,"y":7300},{"x":444.5,"y":6900},{"x":445,"y":7050},{"x":445.5,"y":6800},{"x":446,"y":6950},{"x":446.5,"y":6450},{"x":447,"y":6900},{"x":447.5,"y":6750},{"x":448,"y":6850},{"x":448.5,"y":6700},{"x":449,"y":6800},{"x":449.5,"y":6550},{"x":450,"y":6900},{"x":450.5,"y":6700},{"x":451,"y":7200},{"x":451.5,"y":7600},{"x":452,"y":8200},{"x":452.5,"y":8900},{"x":453,"y":9600},{"x":453.5,"y":9900},{"x":454,"y":10050},{"x":454.5,"y":9750},{"x":455,"y":9900},{"x":455.5,"y":9650},{"x":456,"y":9600},{"x":456.5,"y":9450},{"x":457,"y":9250},{"x":457.5,"y":9600},{"x":458,"y":10100},{"x":458.5,"y":10900},{"x":459,"y":11350},{"x":459.5,"y":11100},{"x":460,"y":11000},{"x":460.5,"y":10700},{"x":461,"y":10800},{"x":461.5,"y":10200},{"x":462,"y":9500},{"x":462.5,"y":8950},{"x":463,"y":8550},{"x":463.5,"y":8300},{"x":464,"y":8200},{"x":464.5,"y":8000},{"x":465,"y":7900},{"x":465.5,"y":7750},{"x":466,"y":7850},{"x":466.5,"y":7600},{"x":467,"y":7750},{"x":467.5,"y":7500},{"x":468,"y":7650},{"x":468.5,"y":7550},{"x":469,"y":7400},{"x":469.5,"y":7550},{"x":470,"y":7250},{"x":470.5,"y":7000},{"x":471,"y":7400},{"x":471.5,"y":7150},{"x":472,"y":7300},{"x":472.5,"y":7050},{"x":473,"y":7350},{"x":473.5,"y":7150},{"x":474,"y":7250},{"x":474.5,"y":7000},{"x":475,"y":7200},{"x":475.5,"y":6950},{"x":476,"y":7100},{"x":476.5,"y":6900},{"x":477,"y":7150},{"x":477.5,"y":6950},{"x":478,"y":7200},{"x":478.5,"y":7050},{"x":479,"y":7300},{"x":479.5,"y":7250},{"x":480,"y":7350},{"x":480.5,"y":7200}],
"bo":[{"x":444,"y":7700},{"x":444.5,"y":8050},{"x":445,"y":7600},{"x":445.5,"y":8700},{"x":446,"y":7700},{"x":446.5,"y":7900},{"x":447,"y":7500},{"x":447.5,"y":8300},{"x":448,"y":7700},{"x":448.5,"y":8100},{"x":449,"y":7600},{"x":449.5,"y":8000},{"x":450,"y":7800},{"x":450.5,"y":8150},{"x":451,"y":7900},{"x":451.5,"y":8300},{"x":452,"y":8500},{"x":452.5,"y":9400},{"x":453,"y":10200},{"x":453.5,"y":11000},{"x":454,"y":10500},{"x":454.5,"y":10800},{"x":455,"y":11300},{"x":455.5,"y":12000},{"x":456,"y":10900},{"x":456.5,"y":10700},{"x":457,"y":10300},{"x":457.5,"y":10600},{"x":458,"y":10900},{"x":458.5,"y":11600},{"x":459,"y":12000},{"x":459.5,"y":12100},{"x":460,"y":12200},{"x":460.5,"y":12500},{"x":461,"y":12800},{"x":461.5,"y":12000},{"x":462,"y":11100},{"x":462.5,"y":10200},{"x":463,"y":9600},{"x":463.5,"y":9100},{"x":464,"y":8800},{"x":464.5,"y":8650},{"x":465,"y":8600},{"x":465.5,"y":8400},{"x":466,"y":9250},{"x":466.5,"y":8300},{"x":467,"y":8700},{"x":467.5,"y":8200},{"x":468,"y":8600},{"x":468.5,"y":8200},{"x":469,"y":8500},{"x":469.5,"y":8100},{"x":470,"y":8400},{"x":470.5,"y":8150},{"x":471,"y":8300},{"x":471.5,"y":8050},{"x":472,"y":8400},{"x":472.5,"y":9250},{"x":473,"y":8200},{"x":473.5,"y":8500},{"x":474,"y":8000},{"x":474.5,"y":8300},{"x":475,"y":7950},{"x":475.5,"y":8200},{"x":476,"y":8050},{"x":476.5,"y":7900},{"x":477,"y":8400},{"x":477.5,"y":7850},{"x":478,"y":8150},{"x":478.5,"y":7800},{"x":479,"y":8050},{"x":479.5,"y":7800},{"x":480,"y":8050},{"x":480.5,"y":7850}],
"bg":[{"x":444,"y":7250},{"x":444.5,"y":7150},{"x":445,"y":7500},{"x":445.5,"y":7050},{"x":446,"y":7150},{"x":446.5,"y":7000},{"x":447,"y":7100},{"x":447.5,"y":6950},{"x":448,"y":7150},{"x":448.5,"y":7050},{"x":449,"y":7200},{"x":449.5,"y":7100},{"x":450,"y":7300},{"x":450.5,"y":7400},{"x":451,"y":7650},{"x":451.5,"y":7950},{"x":452,"y":8400},{"x":452.5,"y":9200},{"x":453,"y":10000},{"x":453.5,"y":10600},{"x":454,"y":10850},{"x":454.5,"y":10300},{"x":455,"y":10400},{"x":455.5,"y":10200},{"x":456,"y":10150},{"x":456.5,"y":9900},{"x":457,"y":9700},{"x":457.5,"y":9850},{"x":458,"y":10300},{"x":458.5,"y":11000},{"x":459,"y":11650},{"x":459.5,"y":11800},{"x":460,"y":11450},{"x":460.5,"y":11300},{"x":461,"y":11100},{"x":461.5,"y":10600},{"x":462,"y":10000},{"x":462.5,"y":9400},{"x":463,"y":8900},{"x":463.5,"y":8600},{"x":464,"y":8400},{"x":464.5,"y":8250},{"x":465,"y":8150},{"x":465.5,"y":8300},{"x":466,"y":8000},{"x":466.5,"y":8150},{"x":467,"y":7900},{"x":467.5,"y":8050},{"x":468,"y":7850},{"x":468.5,"y":7950},{"x":469,"y":7750},{"x":469.5,"y":7850},{"x":470,"y":7700},{"x":470.5,"y":7650},{"x":471,"y":7800},{"x":471.5,"y":7600},{"x":472,"y":7700},{"x":472.5,"y":8050},{"x":473,"y":7650},{"x":473.5,"y":7550},{"x":474,"y":7700},{"x":474.5,"y":7450},{"x":475,"y":7650},{"x":475.5,"y":7450},{"x":476,"y":7550},{"x":476.5,"y":7400},{"x":477,"y":7500},{"x":477.5,"y":7400},{"x":478,"y":7550},{"x":478.5,"y":7450},{"x":479,"y":7500},{"x":479.5,"y":7550},{"x":480,"y":7500},{"x":480.5,"y":7450}],
"cb":[{"x":444.5,"y":7500},{"x":445,"y":7600},{"x":445.5,"y":7850},{"x":446,"y":7450},{"x":446.5,"y":7650},{"x":447,"y":7350},{"x":447.5,"y":7600},{"x":448,"y":7400},{"x":448.5,"y":7650},{"x":449,"y":7350},{"x":449.5,"y":7600},{"x":450,"y":7500},{"x":450.5,"y":7700},{"x":451,"y":7450},{"x":451.5,"y":7650},{"x":452,"y":8100},{"x":452.5,"y":9200},{"x":453,"y":9600},{"x":453.5,"y":10400},{"x":454,"y":11200},{"x":454.5,"y":11600},{"x":455,"y":11300},{"x":455.5,"y":11350},{"x":456,"y":11200},{"x":456.5,"y":11600},{"x":457,"y":11200},{"x":457.5,"y":10800},{"x":458,"y":10500},{"x":458.5,"y":10900},{"x":459,"y":11700},{"x":459.5,"y":12400},{"x":460,"y":12600},{"x":460.5,"y":12750},{"x":461,"y":12500},{"x":461.5,"y":12700},{"x":462,"y":12600},{"x":462.5,"y":12100},{"x":463,"y":10600},{"x":463.5,"y":9400},{"x":464,"y":8900},{"x":464.5,"y":8700},{"x":465,"y":8800},{"x":465.5,"y":8500},{"x":466,"y":8750},{"x":466.5,"y":8450},{"x":467,"y":8700},{"x":467.5,"y":8350},{"x":468,"y":8650},{"x":468.5,"y":8300},{"x":469,"y":8550},{"x":469.5,"y":8200},{"x":470,"y":8450},{"x":470.5,"y":8100},{"x":471,"y":8500},{"x":471.5,"y":8150},{"x":472,"y":8400},{"x":472.5,"y":8000},{"x":473,"y":8350},{"x":473.5,"y":8050},{"x":474,"y":8300},{"x":474.5,"y":7950},{"x":475,"y":8250},{"x":475.5,"y":7900},{"x":476,"y":8200},{"x":476.5,"y":7950},{"x":477,"y":8150},{"x":477.5,"y":7800},{"x":478,"y":8050},{"x":478.5,"y":7700},{"x":479,"y":8000},{"x":479.5,"y":7750},{"x":480,"y":7950},{"x":480.5,"y":7650},{"x":481,"y":7900}],
"co":[{"x":444.5,"y":7950},{"x":445,"y":7900},{"x":446,"y":7800},{"x":447,"y":7700},{"x":448,"y":7660},{"x":449,"y":7680},{"x":450,"y":7720},{"x":451,"y":7800},{"x":452,"y":8300},{"x":452.5,"y":9000},{"x":453,"y":9800},{"x":453.5,"y":10500},{"x":454,"y":11000},{"x":455,"y":11400},{"x":456,"y":11300},{"x":456.5,"y":11850},{"x":457,"y":11300},{"x":458,"y":10550},{"x":458.5,"y":10900},{"x":459,"y":11800},{"x":459.5,"y":12400},{"x":460,"y":12700},{"x":461,"y":12820},{"x":462,"y":12950},{"x":462.5,"y":12400},{"x":463,"y":11000},{"x":463.5,"y":9900},{"x":464,"y":9200},{"x":465,"y":8950},{"x":466,"y":8850},{"x":467,"y":8750},{"x":468,"y":8650},{"x":469,"y":8600},{"x":470,"y":8550},{"x":471,"y":8480},{"x":472,"y":8430},{"x":473,"y":8400},{"x":474,"y":8350},{"x":475,"y":8300},{"x":476,"y":8250},{"x":477,"y":8180},{"x":478,"y":8120},{"x":479,"y":8100},{"x":480,"y":8200},{"x":481,"y":8150}],
"cg":[{"x":444.5,"y":8000},{"x":445,"y":8200},{"x":445.5,"y":7900},{"x":446,"y":8250},{"x":446.5,"y":7950},{"x":447,"y":8150},{"x":447.5,"y":7850},{"x":448,"y":8100},{"x":448.5,"y":7800},{"x":449,"y":8050},{"x":449.5,"y":7850},{"x":450,"y":8100},{"x":450.5,"y":7900},{"x":451,"y":8200},{"x":451.5,"y":8000},{"x":452,"y":8400},{"x":452.5,"y":9300},{"x":453,"y":10000},{"x":453.5,"y":10900},{"x":454,"y":11700},{"x":454.5,"y":12100},{"x":455,"y":11800},{"x":455.5,"y":12250},{"x":456,"y":11900},{"x":456.5,"y":12350},{"x":457,"y":11800},{"x":457.5,"y":11400},{"x":458,"y":11100},{"x":458.5,"y":11600},{"x":459,"y":12300},{"x":459.5,"y":13000},{"x":460,"y":13600},{"x":460.5,"y":13450},{"x":461,"y":13650},{"x":461.5,"y":13300},{"x":462,"y":13750},{"x":462.5,"y":12300},{"x":463,"y":10700},{"x":463.5,"y":9700},{"x":464,"y":9400},{"x":464.5,"y":9250},{"x":465,"y":9100},{"x":465.5,"y":9300},{"x":466,"y":9050},{"x":466.5,"y":9250},{"x":467,"y":9000},{"x":467.5,"y":9200},{"x":468,"y":8850},{"x":468.5,"y":9100},{"x":469,"y":8800},{"x":469.5,"y":9000},{"x":470,"y":8750},{"x":470.5,"y":8950},{"x":471,"y":8700},{"x":471.5,"y":8950},{"x":472,"y":9100},{"x":472.5,"y":8850},{"x":473,"y":9050},{"x":473.5,"y":8700},{"x":474,"y":8850},{"x":474.5,"y":8600},{"x":475,"y":8800},{"x":475.5,"y":8500},{"x":476,"y":8700},{"x":476.5,"y":8450},{"x":477,"y":8600},{"x":477.5,"y":8350},{"x":478,"y":8550},{"x":478.5,"y":8300},{"x":479,"y":8600},{"x":479.5,"y":8350},{"x":480,"y":8450},{"x":480.5,"y":8300},{"x":481,"y":8400}]
},
"columns":2,
"align":"each",
"bounds":"flush",
"spacing":{"row":67,"column":99},
"resolve":{"scale":{"x":"independent","y":"independent","color":"independent"}},
"concat":[
{"width":600,"height":223,
"encoding":{"x":{"field":"x","type":"quantitative","scale":{"domain":[0,600],"nice":false,"zero":false},"axis":null},"y":{"field":"y","type":"quantitative","scale":{"domain":[0,223],"nice":false,"zero":false},"axis":null}},
"layer":[
{"data":{"name":"sa"},"mark":{"type":"line","strokeWidth":2,"strokeJoin":"round"},"encoding":{"color":{"field":"k","type":"ordinal","scale":{"domain":[0,1,2,3,4,5,6,7,8,9],"range":["#d5e9cf","#c6e1bf","#b6daae","#a5d29c","#93cb8a","#7fc378","#69ba65","#52b153","#3ca844","#1aaed0"]},"legend":null}}},
{"data":{"name":"ra"},"mark":{"type":"rule","strokeWidth":1.6,"color":"#222"},"encoding":{"x2":{"field":"x2"},"y2":{"field":"y2"}}},
{"data":{"name":"ha"},"mark":{"type":"point","shape":"triangle","filled":true,"size":32,"color":"#222","opacity":1},"encoding":{"angle":{"field":"a","type":"quantitative","scale":null}}},
{"data":{"name":"la"},"mark":{"type":"rule","strokeWidth":2,"color":"#444"},"encoding":{"x2":{"field":"x2"}}},
{"data":{"name":"la"},"mark":{"type":"point","shape":"triangle-right","filled":true,"size":80,"color":"#444","opacity":1},"encoding":{"x":{"field":"x2","type":"quantitative","scale":{"domain":[0,600],"nice":false,"zero":false},"axis":null}}},
{"data":{"name":"ta"},"mark":{"type":"text","align":"left","baseline":"alphabetic","fontSize":23,"fontWeight":"bold","color":"#1a1a1a","font":"Liberation Sans"},"encoding":{"text":{"field":"t","type":"nominal"}}}
]},
{"width":261,"height":223,
"encoding":{"x":{"field":"x","type":"quantitative","scale":{"domain":[442.4,482.6],"nice":false,"zero":false},"axis":{"values":[450,460,470,480],"format":"d","title":"Energy Loss (eV)","titlePadding":8,"labelFlush":false}},"y":{"field":"y","type":"quantitative","scale":{"domain":[6000,13200],"nice":false,"zero":false},"axis":{"values":[6000,8000,10000,12000],"format":"d","title":"Intensity (counts)","titlePadding":12}}},
"layer":[
{"data":{"name":"ab"},"mark":{"type":"line","color":"#1aaed0","strokeWidth":1.6}},
{"data":{"name":"ao"},"mark":{"type":"line","color":"#f47920","strokeWidth":1.8}},
{"data":{"name":"ag"},"mark":{"type":"line","color":"#31a745","strokeWidth":1.6}},
{"data":{"name":"ka"},"transform":[{"filter":"datum.t == 'Ti'"}],"mark":{"type":"text","align":"left","baseline":"alphabetic","fontSize":23,"fontWeight":"bold","color":"#1a1a1a","font":"Liberation Sans"},"encoding":{"text":{"field":"t","type":"nominal"}}},
{"data":{"name":"ka"},"transform":[{"filter":"datum.t == 'L'"}],"mark":{"type":"text","align":"left","baseline":"alphabetic","fontSize":23,"fontWeight":"bold","fontStyle":"italic","color":"#1a1a1a","font":"Liberation Sans"},"encoding":{"text":{"field":"t","type":"nominal"}}},
{"data":{"name":"ka"},"transform":[{"filter":"datum.t == '2,3'"}],"mark":{"type":"text","align":"left","baseline":"alphabetic","fontSize":14,"fontWeight":"bold","color":"#1a1a1a","font":"Liberation Sans"},"encoding":{"text":{"field":"t","type":"nominal"}}}
]},
{"width":600,"height":223,
"encoding":{"x":{"field":"x","type":"quantitative","scale":{"domain":[0,600],"nice":false,"zero":false},"axis":null},"y":{"field":"y","type":"quantitative","scale":{"domain":[0,223],"nice":false,"zero":false},"axis":null}},
"layer":[
{"data":{"name":"sb"},"mark":{"type":"line","strokeWidth":2,"strokeJoin":"round"},"encoding":{"color":{"field":"k","type":"ordinal","scale":{"domain":[0,1,2,3],"range":["#d5e9cf","#9ccf93","#3ca844","#1aaed0"]},"legend":null}}},
{"data":{"name":"rb"},"mark":{"type":"rule","strokeWidth":1.6,"color":"#222"},"encoding":{"x2":{"field":"x2"},"y2":{"field":"y2"}}},
{"data":{"name":"hb"},"mark":{"type":"point","shape":"triangle","filled":true,"size":32,"color":"#222","opacity":1},"encoding":{"angle":{"field":"a","type":"quantitative","scale":null}}},
{"data":{"name":"lb"},"mark":{"type":"rule","strokeWidth":2,"color":"#444"},"encoding":{"x2":{"field":"x2"}}},
{"data":{"name":"lb"},"mark":{"type":"point","shape":"triangle-right","filled":true,"size":80,"color":"#444","opacity":1},"encoding":{"x":{"field":"x2","type":"quantitative","scale":{"domain":[0,600],"nice":false,"zero":false},"axis":null}}},
{"data":{"name":"tb"},"mark":{"type":"text","align":"left","baseline":"alphabetic","fontSize":23,"fontWeight":"bold","color":"#1a1a1a","font":"Liberation Sans"},"encoding":{"text":{"field":"t","type":"nominal"}}}
]},
{"width":261,"height":223,
"encoding":{"x":{"field":"x","type":"quantitative","scale":{"domain":[442.4,482.6],"nice":false,"zero":false},"axis":{"values":[450,460,470,480],"format":"d","title":"Energy Loss (eV)","titlePadding":8,"labelFlush":false}},"y":{"field":"y","type":"quantitative","scale":{"domain":[6000,13050],"nice":false,"zero":false},"axis":{"values":[6000,8000,10000,12000],"format":"d","title":"Intensity (counts)","titlePadding":12}}},
"layer":[
{"data":{"name":"bb"},"mark":{"type":"line","color":"#1aaed0","strokeWidth":1.6}},
{"data":{"name":"bo"},"mark":{"type":"line","color":"#f47920","strokeWidth":1.6}},
{"data":{"name":"bg"},"mark":{"type":"line","color":"#31a745","strokeWidth":1.6}},
{"data":{"name":"kb"},"transform":[{"filter":"datum.t == 'Ti'"}],"mark":{"type":"text","align":"left","baseline":"alphabetic","fontSize":23,"fontWeight":"bold","color":"#1a1a1a","font":"Liberation Sans"},"encoding":{"text":{"field":"t","type":"nominal"}}},
{"data":{"name":"kb"},"transform":[{"filter":"datum.t == 'L'"}],"mark":{"type":"text","align":"left","baseline":"alphabetic","fontSize":23,"fontWeight":"bold","fontStyle":"italic","color":"#1a1a1a","font":"Liberation Sans"},"encoding":{"text":{"field":"t","type":"nominal"}}},
{"data":{"name":"kb"},"transform":[{"filter":"datum.t == '2,3'"}],"mark":{"type":"text","align":"left","baseline":"alphabetic","fontSize":14,"fontWeight":"bold","color":"#1a1a1a","font":"Liberation Sans"},"encoding":{"text":{"field":"t","type":"nominal"}}}
]},
{"width":600,"height":223,
"encoding":{"x":{"field":"x","type":"quantitative","scale":{"domain":[0,600],"nice":false,"zero":false},"axis":null},"y":{"field":"y","type":"quantitative","scale":{"domain":[0,223],"nice":false,"zero":false},"axis":null}},
"layer":[
{"data":{"name":"sc"},"mark":{"type":"line","strokeWidth":2,"strokeJoin":"round"},"encoding":{"color":{"field":"k","type":"ordinal","scale":{"domain":[0,1,2,3,4,5,6,7,8],"range":["#d5e9cf","#c3dfba","#b0d7a6","#9ccf92","#87c67e","#70bd69","#57b354","#3ca844","#1aaed0"]},"legend":null}}},
{"data":{"name":"rc"},"mark":{"type":"rule","strokeWidth":1.6,"color":"#222"},"encoding":{"x2":{"field":"x2"},"y2":{"field":"y2"}}},
{"data":{"name":"hc"},"mark":{"type":"point","shape":"triangle","filled":true,"size":32,"color":"#222","opacity":1},"encoding":{"angle":{"field":"a","type":"quantitative","scale":null}}},
{"data":{"name":"lc"},"mark":{"type":"rule","strokeWidth":2,"color":"#444"},"encoding":{"x2":{"field":"x2"}}},
{"data":{"name":"lc"},"mark":{"type":"point","shape":"triangle-right","filled":true,"size":80,"color":"#444","opacity":1},"encoding":{"x":{"field":"x2","type":"quantitative","scale":{"domain":[0,600],"nice":false,"zero":false},"axis":null}}},
{"data":{"name":"tc"},"mark":{"type":"text","align":"left","baseline":"alphabetic","fontSize":23,"fontWeight":"bold","color":"#1a1a1a","font":"Liberation Sans"},"encoding":{"text":{"field":"t","type":"nominal"}}}
]},
{"width":261,"height":223,
"encoding":{"x":{"field":"x","type":"quantitative","scale":{"domain":[442.4,482.6],"nice":false,"zero":false},"axis":{"values":[450,460,470,480],"format":"d","title":"Energy Loss (eV)","titlePadding":8,"labelFlush":false}},"y":{"field":"y","type":"quantitative","scale":{"domain":[7000,14150],"nice":false,"zero":false},"axis":{"values":[8000,10000,12000,14000],"format":"d","title":"Intensity (counts)","titlePadding":12}}},
"layer":[
{"data":{"name":"cb"},"mark":{"type":"line","color":"#1aaed0","strokeWidth":1.6}},
{"data":{"name":"co"},"mark":{"type":"line","color":"#f47920","strokeWidth":1.8}},
{"data":{"name":"cg"},"mark":{"type":"line","color":"#31a745","strokeWidth":1.6}},
{"data":{"name":"kc"},"transform":[{"filter":"datum.t == 'Ti'"}],"mark":{"type":"text","align":"left","baseline":"alphabetic","fontSize":23,"fontWeight":"bold","color":"#1a1a1a","font":"Liberation Sans"},"encoding":{"text":{"field":"t","type":"nominal"}}},
{"data":{"name":"kc"},"transform":[{"filter":"datum.t == 'L'"}],"mark":{"type":"text","align":"left","baseline":"alphabetic","fontSize":23,"fontWeight":"bold","fontStyle":"italic","color":"#1a1a1a","font":"Liberation Sans"},"encoding":{"text":{"field":"t","type":"nominal"}}},
{"data":{"name":"kc"},"transform":[{"filter":"datum.t == '2,3'"}],"mark":{"type":"text","align":"left","baseline":"alphabetic","fontSize":14,"fontWeight":"bold","color":"#1a1a1a","font":"Liberation Sans"},"encoding":{"text":{"field":"t","type":"nominal"}}}
]}
]
}
